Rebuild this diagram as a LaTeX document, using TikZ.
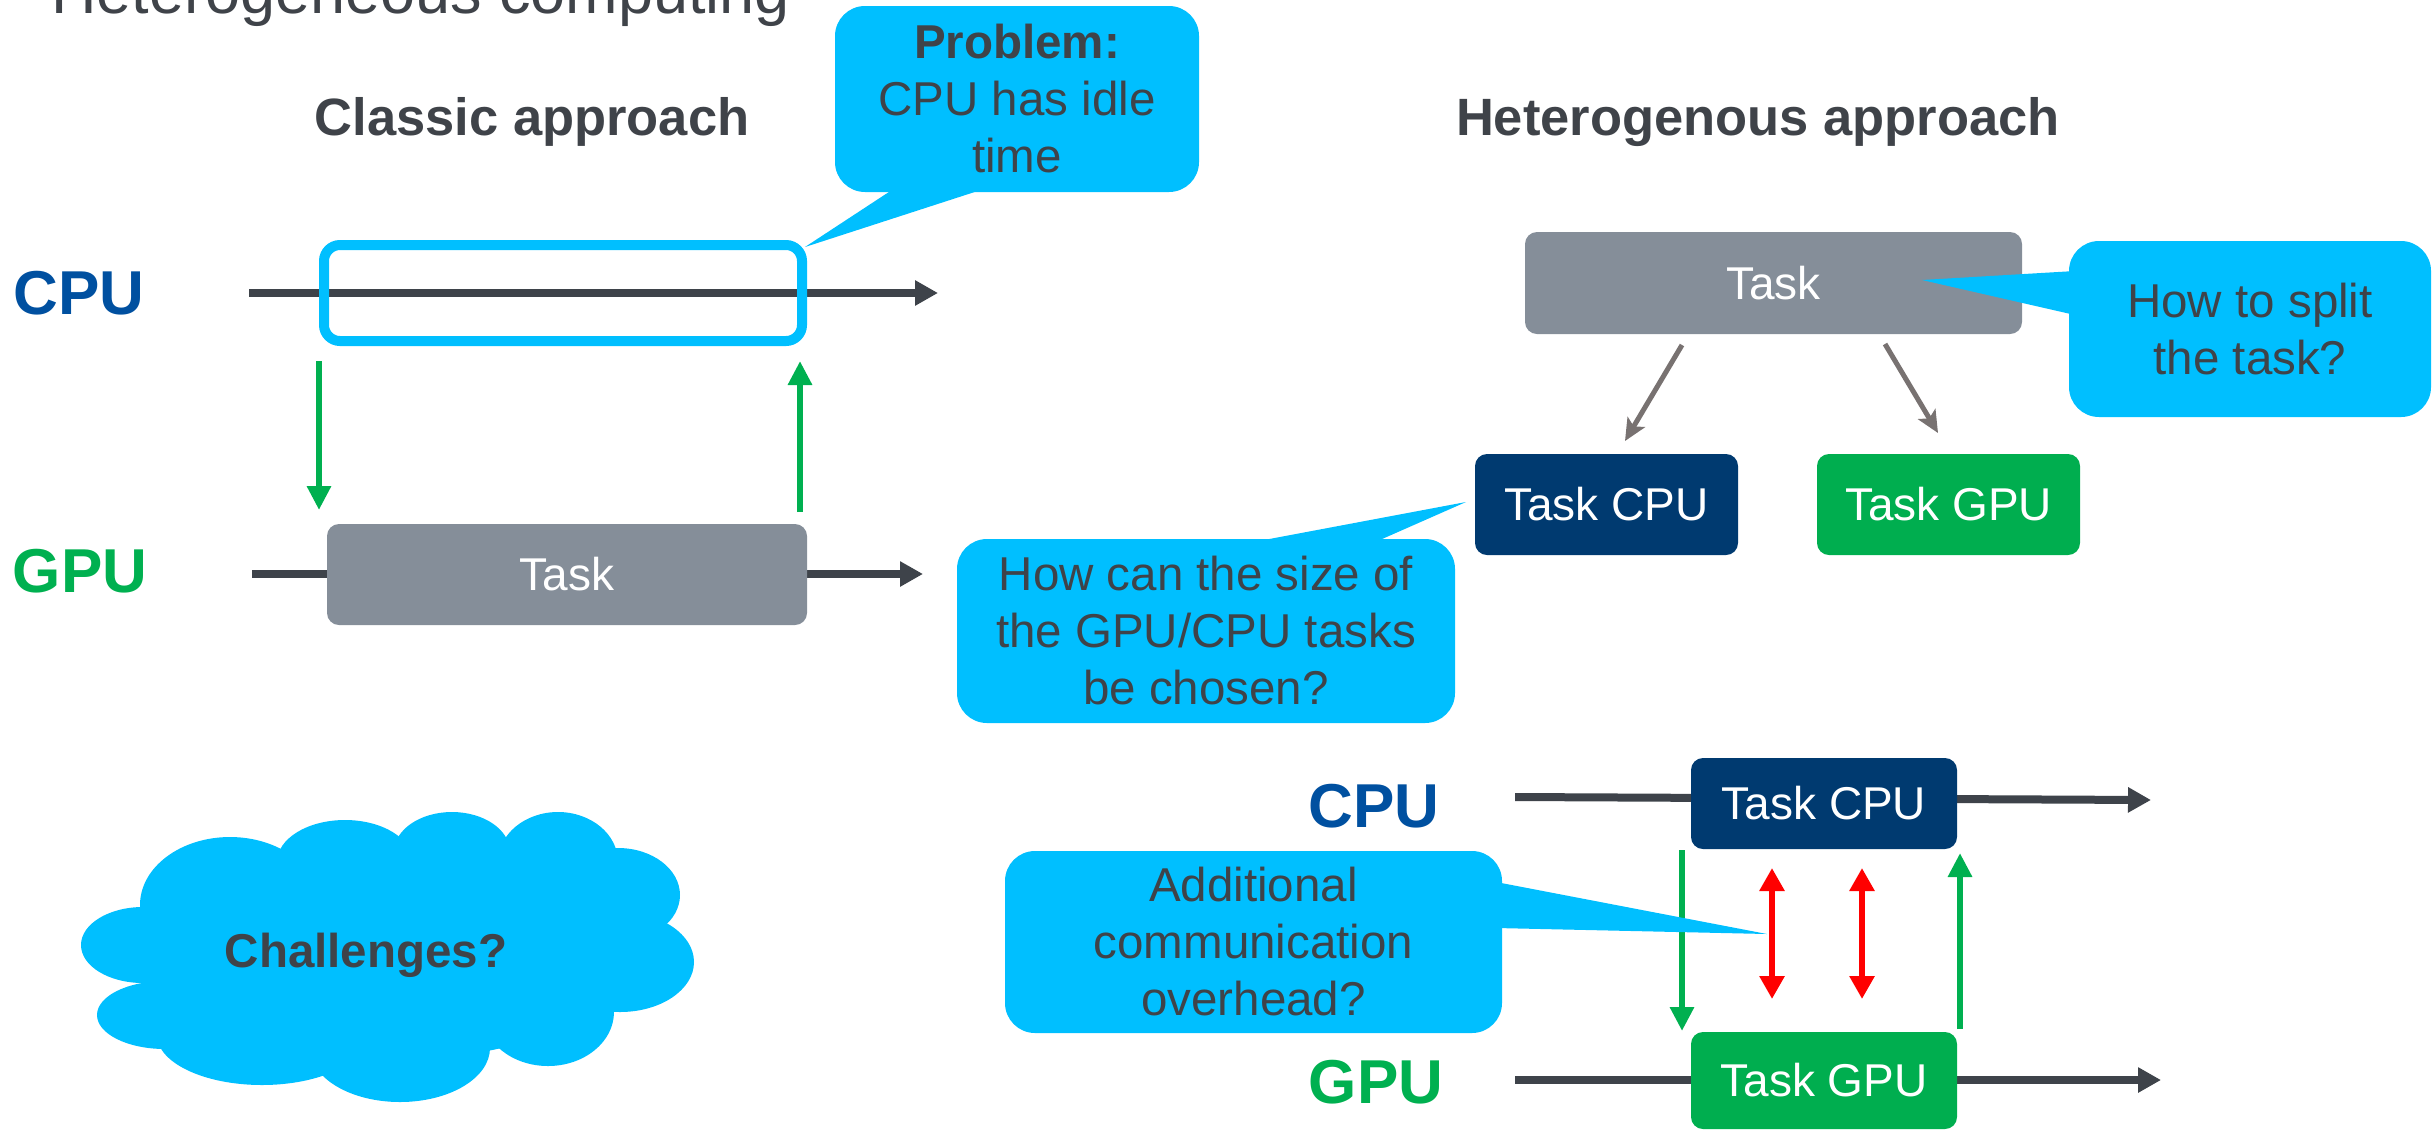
\documentclass[tikz,border=0pt]{standalone}
\usepackage{fontspec}
\setmainfont{Liberation Sans}
\usetikzlibrary{arrows.meta,calc}

\definecolor{callout}{HTML}{00BFFF}
\definecolor{ink}{HTML}{3F4349}
\definecolor{taskgray}{HTML}{858E99}
\definecolor{navy}{HTML}{003A70}
\definecolor{gpugreen}{HTML}{00AE4F}
\definecolor{linkgreen}{HTML}{00B050}
\definecolor{cpublue}{HTML}{0050A0}
\definecolor{lanegray}{HTML}{3E434A}
\definecolor{splitgray}{HTML}{787271}
\definecolor{syncred}{HTML}{FF0000}

\begin{document}
\begin{tikzpicture}[x=0.5pt,y=-0.5pt,
  every node/.style={inner sep=0pt, outer sep=0pt},
  taskbox/.style={rounded corners=6pt, text=white,
    font=\fontsize{23}{28}\selectfont},
  bubble/.style={fill=callout, rounded corners=15pt, align=center, text=ink,
    font=\fontsize{23.75}{28.5}\selectfont},
  heading/.style={anchor=base, text=ink, font=\fontsize{26.25}{30}\selectfont\bfseries},
  unitlabel/.style={anchor=base, font=\fontsize{31}{36}\selectfont\bfseries},
  lane/.style={draw=lanegray, line width=4pt,
    -{Triangle[length=11.5pt,width=12pt]}},
  handoff/.style={draw=linkgreen, line width=3pt,
    -{Triangle[length=12pt,width=11.5pt]}},
  sync/.style={draw=syncred, line width=3pt,
    {Triangle[length=11.5pt,width=12pt]}-{Triangle[length=11.5pt,width=12pt]}},
  split/.style={draw=splitgray, line width=2.5pt,
    -{Stealth[length=11pt,width=10pt,inset=2.5pt]}},
]
\useasboundingbox (0,0) rectangle (2436,1131);

% ---------- titles ----------
\node[anchor=base west, text=ink, font=\fontsize{31.5}{36}\selectfont]
  (title) at (51,13) {Heterogeneous computing};
\node[heading] (classic) at (532,135) {Classic approach};
\node[heading] (hetero) at (1758,135) {Heterogenous approach};

% ---------- classic approach ----------
\node[unitlabel, text=cpublue] (cpuA) at (79,314) {CPU};
\node[unitlabel, text=linkgreen] (gpuA) at (80,592) {GPU};

\coordinate (cpuAstart) at (249,293);
\coordinate (cpuAend) at (938,293);
\draw[lane] (cpuAstart) -- (cpuAend);
\coordinate (gpuAstart) at (252,574);
\coordinate (gpuAend) at (923,574);
\draw[lane] (gpuAstart) -- (gpuAend);

\node[draw=callout, line width=5pt, rounded corners=8pt,
  minimum width=239pt, minimum height=48pt] (idle) at (563,293) {};
\node[taskbox, fill=taskgray, minimum width=240pt, minimum height=50.5pt]
  (gputask) at (567,574.5) {Task};

\draw[handoff] ([shift={(-5,20)}]idle.south west) -- ([shift={(-8,-14)}]gputask.north west);
\draw[handoff] ([shift={(-7,-12)}]gputask.north east) -- ([shift={(-2,20)}]idle.south east);

% callout: idle CPU
\node[bubble, minimum width=182pt, minimum height=93pt] (problem) at (1017,99)
  {\textbf{Problem:}\\CPU has idle\\time};
\coordinate (problemtip) at (805,247);
\fill[callout] ([shift={(-122,-4)}]problem.south) -- ([shift={(-30,-4)}]problem.south) -- (problemtip) -- cycle;

% ---------- heterogenous approach: splitting ----------
\node[taskbox, fill=taskgray, minimum width=248.5pt, minimum height=51pt]
  (task) at (1773.5,283) {Task};
\node[taskbox, fill=navy, minimum width=131.5pt, minimum height=50.5pt]
  (tcpu) at (1606.5,504.5) {Task CPU};
\node[taskbox, fill=gpugreen, minimum width=131.5pt, minimum height=50.5pt]
  (tgpu) at (1948.5,504.5) {Task GPU};

\draw[split] ([shift={(157,11)}]task.south west) -- ([shift={(150,-13)}]tcpu.north west);
\draw[split] ([shift={(-137,10)}]task.south east) -- ([shift={(121,-21)}]tgpu.north west);

% callout: splitting
\node[bubble, minimum width=181pt, minimum height=88pt] (splitq) at (2250,329)
  {How to split\\the task?};
\coordinate (splittip) at (1922,280);
\fill[callout] ([shift={(6,-58)}]splitq.west) -- ([shift={(6,-14)}]splitq.west) -- (splittip) -- cycle;

% callout: task sizes
\node[bubble, minimum width=249pt, minimum height=92pt] (sizeq) at (1206,631)
  {How can the size of\\the GPU/CPU tasks\\be chosen?};
\coordinate (sizetip) at (1466,502);
\fill[callout] ([shift={(42,4)}]sizeq.north) -- ([shift={(167,4)}]sizeq.north) -- (sizetip) -- cycle;

% ---------- heterogenous approach: timelines ----------
\node[unitlabel, text=cpublue] (cpuB) at (1374,827) {CPU};
\node[unitlabel, text=linkgreen] (gpuB) at (1376,1103) {GPU};

\coordinate (cpuBstart) at (1515,797);
\coordinate (cpuBend) at (2151,800);
\draw[lane] (cpuBstart) -- (cpuBend);
\coordinate (gpuBstart) at (1515,1080);
\coordinate (gpuBend) at (2161,1080);
\draw[lane] (gpuBstart) -- (gpuBend);

\node[taskbox, fill=navy, minimum width=133pt, minimum height=45.5pt]
  (tcpuB) at (1824,803.5) {Task CPU};
\node[taskbox, fill=gpugreen, minimum width=133pt, minimum height=48.5pt]
  (tgpuB) at (1824,1080.5) {Task GPU};

\draw[handoff] ([shift={(-9,1)}]tcpuB.south west) -- ([shift={(-9,-1)}]tgpuB.north west);
\draw[handoff] ([shift={(3,-3)}]tgpuB.north east) -- ([shift={(3,4)}]tcpuB.south east);
\draw[sync] ([shift={(81,19)}]tcpuB.south west) -- ([shift={(81,-33)}]tgpuB.north west);
\draw[sync] ([shift={(171,19)}]tcpuB.south west) -- ([shift={(171,-33)}]tgpuB.north west);

% callout: communication overhead
\node[bubble, minimum width=248.5pt, minimum height=91pt] (commq) at (1253.5,942)
  {Additional\\communication\\overhead?};
\coordinate (commtip) at (1767,934);
\fill[callout] ([shift={(-6,-60)}]commq.east) -- ([shift={(-6,-14)}]commq.east) -- (commtip) -- cycle;

% ---------- challenges cloud ----------
\begin{scope}
\fill[callout] (390,955) ellipse [x radius=240, y radius=105];
\fill[callout] (143,945) ellipse [x radius=62, y radius=38];
\fill[callout] (165,1015) ellipse [x radius=68, y radius=34];
\fill[callout] (262,1035) ellipse [x radius=105, y radius=50];
\fill[callout] (400,1048) ellipse [x radius=90, y radius=54];
\fill[callout] (548,1012) ellipse [x radius=66, y radius=54];
\fill[callout] (620,962) ellipse [x radius=74, y radius=50];
\fill[callout] (618,895) ellipse [x radius=62, y radius=47];
\fill[callout] (558,862) ellipse [x radius=60, y radius=50];
\fill[callout] (452,852) ellipse [x radius=58, y radius=40];
\fill[callout] (345,862) ellipse [x radius=68, y radius=42];
\fill[callout] (230,905) ellipse [x radius=90, y radius=68];
\end{scope}
\node[anchor=base, text=ink, font=\fontsize{23.75}{28}\selectfont\bfseries]
  (challenges) at (366,967) {Challenges?};

\end{tikzpicture}
\end{document}
